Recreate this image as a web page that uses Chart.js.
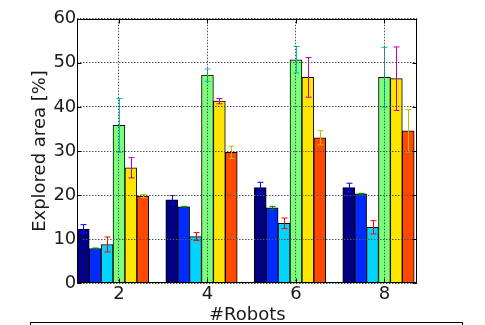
<!DOCTYPE html>
<html>
<head>
<meta charset="utf-8">
<script src="https://cdn.jsdelivr.net/npm/chart.js@4/dist/chart.umd.min.js"></script>
<style>
  html, body { margin: 0; padding: 0; background: #fff; overflow: hidden; }
  #wrap { position: relative; width: 485px; height: 325px; }
  #legendBox { position: absolute; left: 30px; top: 322px; width: 433px; height: 20px; border: 1px solid #000; box-sizing: border-box; }
</style>
</head>
<body>
<div id="wrap">
  <canvas id="c" width="485" height="325"></canvas>
  <div id="legendBox"></div>
</div>
<script>
// ---- data ----
const categories = [2, 4, 6, 8];
const xTickValues = [2, 4, 6, 8];
const yTickStep = 10;
const seriesNames = ['Series 1', 'Series 2', 'Series 3', 'Series 4', 'Series 5', 'Series 6'];
const series1 = [12.3, 18.9, 21.7, 21.7];
const series2 = [7.9, 17.35, 17.1, 20.3];
const series3 = [8.8, 10.6, 13.6, 12.7];
const series4 = [35.8, 47.2, 50.7, 46.7];
const series5 = [26.2, 41.3, 46.7, 46.4];
const series6 = [19.8, 29.7, 33.0, 34.6];
const err1 = [1.0, 1.0, 1.2, 1.0];
const err2 = [0.1, 0.1, 0.35, 0.1];
const err3 = [1.7, 0.9, 1.2, 1.5];
const err4 = [6.1, 1.4, 3.0, 6.8];
const err5 = [2.3, 0.6, 4.5, 7.2];
const err6 = [0.35, 1.4, 1.6, 4.8];

// ---- styling ----
const barWidthUnits = 0.269;
const barColors = ['#000080', '#002bff', '#00d4ff', '#7bff7b', '#ffe600', '#ff4900'];
const errColors = ['#0000ff', '#008000', '#ff0000', '#00bfbf', '#bf00bf', '#bfbf00'];
const FONT = "'DejaVu Sans', 'Liberation Sans', sans-serif";
const TEXT = '#1a1a1a';

const allSeries = [series1, series2, series3, series4, series5, series6];
const allErr = [err1, err2, err3, err4, err5, err6];

const datasets = allSeries.map((vals, i) => ({
  label: seriesNames[i],
  data: vals.map((v, j) => ({ x: categories[j] + (i - 3) * barWidthUnits, y: v })),
  backgroundColor: barColors[i],
  borderColor: '#000',
  borderWidth: 1,
  borderSkipped: false,
  grouped: false,
  categoryPercentage: 1,
  barPercentage: 1,
  errors: allErr[i],
  errColor: errColors[i]
}));

const errorBarPlugin = {
  id: 'errorBars',
  afterDatasetsDraw(chart) {
    const ctx = chart.ctx;
    const xs = chart.scales.x, ys = chart.scales.y;
    ctx.save();
    chart.data.datasets.forEach(ds => {
      ds.data.forEach((p, j) => {
        const e = ds.errors[j];
        const x = Math.round(xs.getPixelForValue(p.x)) + 0.5;
        const yt = ys.getPixelForValue(p.y + e);
        const yb = ys.getPixelForValue(p.y - e);
        ctx.strokeStyle = ds.errColor;
        ctx.lineWidth = 1;
        ctx.beginPath();
        ctx.moveTo(x, yt); ctx.lineTo(x, yb);
        ctx.moveTo(x - 3, yt); ctx.lineTo(x + 3, yt);
        ctx.moveTo(x - 3, yb); ctx.lineTo(x + 3, yb);
        ctx.stroke();
      });
    });
    ctx.restore();
  }
};

const framePlugin = {
  id: 'frame',
  afterDraw(chart) {
    const ctx = chart.ctx;
    const a = chart.chartArea;
    const xs = chart.scales.x, ys = chart.scales.y;
    ctx.save();
    ctx.strokeStyle = '#000';
    ctx.lineWidth = 1;
    const l = Math.round(a.left) + 0.5, r = Math.round(a.right) - 0.5;
    const t = Math.round(a.top) + 0.5, b = Math.round(a.bottom) - 0.5;
    ctx.strokeRect(l, t, r - l, b - t);
    ctx.beginPath();
    ys.ticks.forEach(tk => {
      const y = Math.round(ys.getPixelForValue(tk.value)) + 0.5;
      ctx.moveTo(l, y); ctx.lineTo(l + 4, y);
      ctx.moveTo(r, y); ctx.lineTo(r - 4, y);
    });
    xs.ticks.forEach(tk => {
      const x = Math.round(xs.getPixelForValue(tk.value)) + 0.5;
      ctx.moveTo(x, b); ctx.lineTo(x, b - 4);
      ctx.moveTo(x, t); ctx.lineTo(x, t + 4);
    });
    ctx.stroke();
    ctx.restore();
  }
};

new Chart(document.getElementById('c'), {
  type: 'bar',
  data: { datasets },
  options: {
    responsive: false,
    animation: false,
    devicePixelRatio: 1,
    layout: { padding: { left: 30, right: 67.7, top: 18.7, bottom: 0 } },
    plugins: { legend: { display: false }, tooltip: { enabled: false } },
    scales: {
      x: {
        type: 'linear',
        offset: false,
        min: categories[0] - 3.5 * barWidthUnits,
        max: categories[categories.length - 1] + 2.5 * barWidthUnits + 0.07,
        afterBuildTicks: s => { s.ticks = xTickValues.map(v => ({ value: v })); },
        afterFit: s => { s.height = 41.7; },
        grid: { color: '#555', lineWidth: 1, drawTicks: false, offset: false, z: 1 },
        border: { display: false, dash: [1.5, 1.5] },
        ticks: { color: TEXT, font: { family: FONT, size: 18 }, padding: 0.5, maxRotation: 0 },
        title: { display: true, text: '#Robots', color: TEXT, font: { family: FONT, size: 18 }, padding: { top: 0, bottom: -1.5 } }
      },
      y: {
        min: 0, max: 60,
        afterFit: s => { s.width = 47.3; },
        grid: { color: '#555', lineWidth: 1, drawTicks: false, z: 1 },
        border: { display: false, dash: [1.5, 1.5] },
        ticks: { stepSize: yTickStep, color: TEXT, font: { family: FONT, size: 18 }, padding: 1 },
        title: { display: true, text: 'Explored area [%]', color: TEXT, font: { family: FONT, size: 18 }, padding: { top: 0, bottom: 0 } }
      }
    }
  },
  plugins: [errorBarPlugin, framePlugin]
});
</script>
</body>
</html>
